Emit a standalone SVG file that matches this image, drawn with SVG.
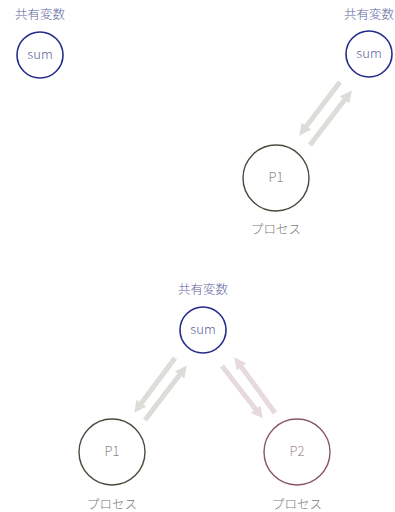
<svg xmlns="http://www.w3.org/2000/svg" width="395" height="512" viewBox="0 0 395 512">
<style>
text{font-family:"Noto Sans CJK JP","Open Sans",sans-serif;font-weight:300;text-anchor:middle}
.lbl{font-size:12.5px;fill:#5a5f9c}
.sum{fill:#fff;stroke:#252b8c;stroke-width:1.6}
.sumt{font-size:13px;fill:#5a5f9c}
.p1{fill:#fff;stroke:#4a4a3c;stroke-width:1.4}
.p1t{font-size:13px;fill:#8a8a86}
.p2{fill:#fff;stroke:#8a5666;stroke-width:1.4}
.p2t{font-size:13px;fill:#a8909a}
.proc{font-size:12.5px;fill:#7a7a76}
.ag{stroke:#dcdcd8;stroke-width:5;fill:none;marker-end:url(#hg)}
.ap{stroke:#e6dadc;stroke-width:5;fill:none;marker-end:url(#hp)}
</style>
<defs>
<marker id="hg" viewBox="0 0 10 10" refX="2" refY="5" markerWidth="12" markerHeight="12" markerUnits="userSpaceOnUse" orient="auto"><path d="M0,0L10,5L0,10z" fill="#dcdcd8"/></marker>
<marker id="hp" viewBox="0 0 10 10" refX="2" refY="5" markerWidth="12" markerHeight="12" markerUnits="userSpaceOnUse" orient="auto"><path d="M0,0L10,5L0,10z" fill="#e6dadc"/></marker>
</defs>
<g id="connectors">
<line class="ag" x1="340" y1="82" x2="305" y2="128"/>
<line class="ag" x1="310" y1="145" x2="346" y2="98"/>
<line class="ag" x1="175" y1="358" x2="140" y2="405"/>
<line class="ag" x1="145" y1="420" x2="181" y2="373"/>
<line class="ap" x1="222" y1="366" x2="257" y2="411"/>
<line class="ap" x1="275" y1="413" x2="240" y2="365"/>
</g>
<g id="sum1">
<text class="lbl" x="40" y="19">共有変数</text>
<circle class="sum" cx="40" cy="55" r="23"/>
<text class="sumt" x="40" y="59">sum</text>
</g>
<g id="sum2">
<text class="lbl" x="369" y="19">共有変数</text>
<circle class="sum" cx="369" cy="54" r="23"/>
<text class="sumt" x="369" y="58">sum</text>
</g>
<g id="p1a">
<circle class="p1" cx="276" cy="178" r="33"/>
<text class="p1t" x="276" y="182">P1</text>
<text class="proc" x="276" y="234">プロセス</text>
</g>
<g id="sum3">
<text class="lbl" x="203" y="294">共有変数</text>
<circle class="sum" cx="203" cy="330" r="23"/>
<text class="sumt" x="203" y="334">sum</text>
</g>
<g id="p1b">
<circle class="p1" cx="112" cy="452" r="33"/>
<text class="p1t" x="112" y="456">P1</text>
<text class="proc" x="112" y="509">プロセス</text>
</g>
<g id="p2">
<circle class="p2" cx="297" cy="452" r="33"/>
<text class="p2t" x="297" y="456">P2</text>
<text class="proc" x="297" y="509">プロセス</text>
</g>
</svg>
